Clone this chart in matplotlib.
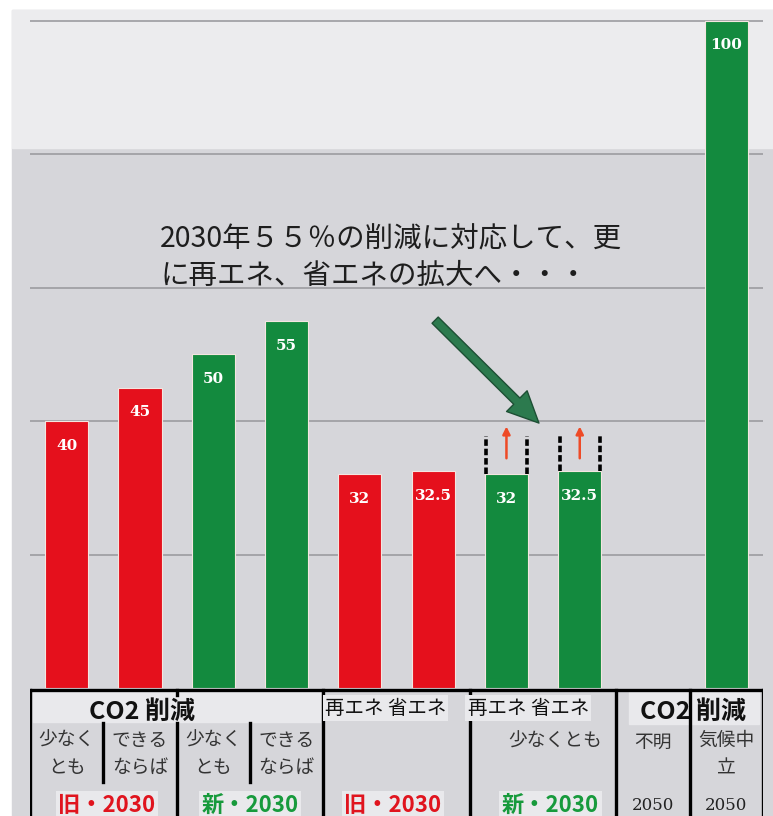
import numpy as np
import matplotlib
matplotlib.use("Agg")
import matplotlib.pyplot as plt
from matplotlib.patches import Rectangle, FancyArrowPatch

plt.rcParams['font.family'] = ['Noto Sans CJK JP', 'DejaVu Sans']

# 削減率・再エネ/省エネ比率 (%)
values = [40, 45, 50, 55, 32, 32.5, 32, 32.5, 100]
eras = ['旧', '旧', '新', '新', '旧', '旧', '新', '新', '新']
grid_values = [20, 40, 60, 80, 100]

note_lines = ['2030年５５％の削減に対応して、更', 'に再エネ、省エネの拡大へ・・・']

sub_labels = ['少なく\nとも', 'できる\nならば', '少なく\nとも', 'できる\nならば']
group_labels = ['旧・2030', '新・2030', '旧・2030', '新・2030']
future_labels = ['不明', '気候中\n立']
future_years = ['2050', '2050']

RED = '#e5101c'
GREEN = '#138a3e'
era_color = {'旧': RED, '新': GREEN}
era_text = {'旧': '#e0141e', '新': '#179a3c'}

W, H = 773, 816
fig = plt.figure(figsize=(W / 100, H / 100), dpi=100)
fig.patch.set_facecolor('white')

# 背景（下側は灰色、上側は明るめ）
fig.patches.append(Rectangle((12 / W, 0), 1 - 12 / W, 1 - 10 / H,
                             transform=fig.transFigure, color='#d6d6da', zorder=-10))
fig.patches.append(Rectangle((12 / W, 1 - 148 / H), 1 - 12 / W, (148 - 10) / H,
                             transform=fig.transFigure, color='#ececee', zorder=-10))

px_per_unit = 6.675
ax_top, ax_base = 8, 688
ax = fig.add_axes([30 / W, 1 - ax_base / H, 733 / W, (ax_base - ax_top) / H])
ax.set_xlim(-0.5, 9.5)
ax.set_ylim(0, (ax_base - ax_top) / px_per_unit)
ax.set_facecolor('none')
ax.axis('off')

for g in grid_values:
    ax.axhline(g, color='#9c9ca0', lw=1.2, zorder=1)

positions = list(np.arange(len(values) - 1)) + [len(values)]
bar_w = 0.59
bars = ax.bar(positions, values, width=bar_w,
              color=[era_color[e] for e in eras],
              edgecolor='#f4e6e0', linewidth=0.8, zorder=3)

for x, v in zip(positions, values):
    ax.text(x, v - 3.7, f'{v:g}', ha='center', va='center', color='white',
            family='DejaVu Serif', weight='bold', fontsize=11, zorder=4)

# 拡大の余地（点線と上向き矢印）
ext_top = 37.8
for x, v in zip(positions[6:8], values[6:8]):
    for dx in (-bar_w / 2 + 0.02, bar_w / 2 - 0.02):
        ax.plot([x + dx, x + dx], [v, ext_top], color='black', lw=2.6,
                linestyle=(0, (1.8, 0.8)), zorder=4)
    ax.add_patch(FancyArrowPatch((x, 34.0), (x, 39.6), arrowstyle='-|>',
                                 mutation_scale=11, color='#ee4a26', lw=1.8, zorder=4))

# 注記
note_x = (160 - 66.5) / 73.33
ax.text(note_x, (ax_base - 239) / px_per_unit, note_lines[0], ha='left', va='center',
        fontsize=20.5, color='#1e1e1e', zorder=5)
ax.text(note_x, (ax_base - 276) / px_per_unit, note_lines[1], ha='left', va='center',
        fontsize=20.5, color='#1e1e1e', zorder=5)
ax.add_patch(FancyArrowPatch((5.0, 55.4), (6.47, 39.4),
                             arrowstyle='simple,head_length=1.6,head_width=1.5,tail_width=0.45',
                             mutation_scale=14, facecolor='#2c7a4e', edgecolor='#1d4f34',
                             lw=1, zorder=5))

# 下の表
tb = fig.add_axes([30 / W, 0, 733 / W, (H - ax_base) / H])
tb.set_xlim(-0.5, 9.5)
tb.set_ylim(H - ax_base, 0)
tb.set_facecolor('none')
tb.axis('off')

box = '#e9e9ec'
tb.add_patch(Rectangle((-0.46, 4), 3.92, 30, color=box, zorder=1))
tb.add_patch(Rectangle((7.67, 4), 1.78, 32, color=box, zorder=1))

lw = 2.4
tb.plot([-0.5, 9.5], [1.5, 1.5], color='black', lw=lw, zorder=3, solid_capstyle='butt')
for x in (-0.5, 3.5, 5.5, 7.5, 8.5, 9.5):
    tb.plot([x, x], [1.5, 130], color='black', lw=lw, zorder=3)
tb.plot([1.5, 1.5], [35, 130], color='black', lw=lw, zorder=3)
tb.plot([1.5, 1.5], [1.5, 7], color='black', lw=lw, zorder=3)
for x in (0.5, 2.5):
    tb.plot([x, x], [35, 94], color='black', lw=lw, zorder=3)

tb.text(1.03, 24, 'CO2 削減', ha='center', va='center', fontsize=18,
        weight='bold', color='#111', zorder=4)
tb.text(8.55, 24, 'CO2 削減', ha='center', va='center', fontsize=18,
        weight='bold', color='#111', zorder=4)

for x0 in (3.52, 5.47):
    tb.text(x0, 20, '再エネ 省エネ', ha='left', va='center', fontsize=14, color='#111',
            zorder=4, bbox=dict(facecolor=box, edgecolor='none', pad=1.5))
tb.text(7.3, 53, '少なくとも', ha='right', va='center', fontsize=13.5, color='#333', zorder=4)

for i, lab in enumerate(sub_labels):
    tb.text(i, 66, lab, ha='center', va='center', fontsize=13.5, color='#333',
            linespacing=1.4, zorder=4)

for x, lab in zip((8, 9), future_labels):
    y = 66 if '\n' in lab else 54
    tb.text(x, y, lab, ha='center', va='center', fontsize=13.5, color='#333',
            linespacing=1.4, zorder=4)

group_x = [0.55, 2.5, 4.45, 6.6]
group_eras = ['旧', '新', '旧', '新']
for x, lab, e in zip(group_x, group_labels, group_eras):
    tb.text(x, 117, lab, ha='center', va='center', fontsize=16, weight='bold',
            color=era_text[e], zorder=4,
            bbox=dict(facecolor=box, edgecolor='none', pad=2))

for x, lab in zip((8, 9), future_years):
    tb.text(x, 118, lab, ha='center', va='center', fontsize=12,
            family='DejaVu Serif', color='#222', zorder=4)

fig.savefig('out.png', dpi=100)
